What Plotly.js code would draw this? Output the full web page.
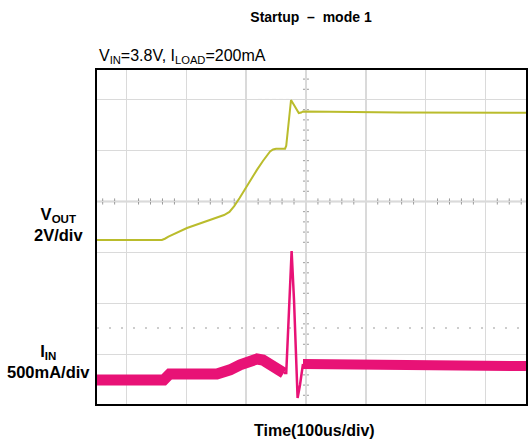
<!DOCTYPE html>
<html>
<head>
<meta charset="utf-8">
<script src="https://cdn.plot.ly/plotly-3.0.1.min.js"></script>
<style>html,body{margin:0;padding:0;background:#fff;}#chart{width:528px;height:443px;}</style>
</head>
<body>
<div id="chart"></div>
<script>
// ---- data (time in microseconds, trigger at centre graticule) ----
const voutTime = [-349.5, -241, -236, -230, -199, -160, -137, -128, -120, -111, -102, -82, -72, -65, -60, -55, -50, -35, -33, -25, -18, -12, -8, -5, 40, 157, 368];
const voutVolts = [0, 0, 0.05, 0.13, 0.47, 0.78, 0.98, 1.1, 1.33, 1.65, 2.0, 2.75, 3.1, 3.33, 3.47, 3.55, 3.58, 3.58, 3.7, 5.49, 5.22, 4.98, 5.0, 5.04, 5.03, 5.0, 4.99];

const iinTime = [-349.5, -238, -233, -228, -149, -138, -127, -110, -94, -82, -72, -60, -48, -37, -33, -24, -20, -14, -10, -5, 3, 17, 368];
const iinMilliamps = [0, 0, 30, 59, 59, 75, 100, 150, 190, 206, 196, 157, 108, 69, 69, 1265, 784, -176, -49, 157, 157, 137, 137];
const spikeStart = 13, spikeEnd = 19; // indices bounding the thin fast transient

const titleText = 'Startup  \u2013  mode 1';
const conditionText = 'V<sub>IN</sub>=3.8V, I<sub>LOAD</sub>=200mA';
const voutLabel = 'V<sub>OUT</sub><br>2V/div';
const iinLabel = 'I<sub>IN</sub><br>500mA/div';
const timeLabel = 'Time(100us/div)';

// ---- layout helpers ----
const xRange = [-349.5, 368];
const gridYRange = [-3.971, 2.578];    // graticule divisions
const voutRange = [-6.431, 6.667];     // volts
const iinRange = [-235, 3039];         // mA

const yellow = 'rgb(186,188,44)';
const magenta = 'rgb(232,18,118)';

const traces = [
  {x: voutTime, y: voutVolts, yaxis: 'y2', mode: 'lines', line: {color: yellow, width: 2}, hoverinfo: 'skip'},
  {x: iinTime.slice(0, spikeStart + 1), y: iinMilliamps.slice(0, spikeStart + 1), yaxis: 'y3', mode: 'lines', line: {color: magenta, width: 11}, hoverinfo: 'skip'},
  {x: iinTime.slice(spikeStart, spikeEnd + 1), y: iinMilliamps.slice(spikeStart, spikeEnd + 1), yaxis: 'y3', mode: 'lines', line: {color: magenta, width: 2.5}, hoverinfo: 'skip'},
  {x: iinTime.slice(spikeEnd), y: iinMilliamps.slice(spikeEnd), yaxis: 'y3', mode: 'lines', line: {color: magenta, width: 10}, hoverinfo: 'skip'}
];

const shapes = [];
const tickCol = '#9a9a9a';
// minor ticks on centre vertical graticule
for (let k = -19; k <= 12; k++) {
  const y = k * 0.2;
  if (Math.abs(k % 5) === 0) continue;
  shapes.push({type: 'line', xref: 'x', yref: 'y', x0: -5, x1: 5, y0: y, y1: y, line: {color: tickCol, width: 1}, layer: 'below'});
}
// minor ticks on centre horizontal graticule
for (let k = -17; k <= 18; k++) {
  const x = k * 20;
  if (k % 5 === 0) continue;
  shapes.push({type: 'line', xref: 'x', yref: 'y', x0: x, x1: x, y0: -0.06, y1: 0.06, line: {color: tickCol, width: 1}, layer: 'below'});
}
// centre lines
shapes.push({type: 'line', xref: 'x', yref: 'paper', x0: 0, x1: 0, y0: 0, y1: 1, line: {color: '#b4b4b4', width: 1.3}, layer: 'below'});
shapes.push({type: 'line', xref: 'paper', yref: 'y', x0: 0, x1: 1, y0: 0, y1: 0, line: {color: '#a8a8a8', width: 1.3}, layer: 'below'});
// dotted reference line and trigger marker
shapes.push({type: 'line', xref: 'paper', yref: 'y', x0: 0, x1: 1, y0: -2.48, y1: -2.48, line: {color: '#bdbdbd', width: 1.5, dash: '2px,10px'}, layer: 'below'});
shapes.push({type: 'line', xref: 'x', yref: 'y', x0: -80, x1: -28, y0: 2, y1: 2, line: {color: '#8a8a8a', width: 1, dash: '4px,3px'}, layer: 'below'});

const layout = {
  width: 528, height: 443,
  margin: {l: 97, r: 2, t: 70, b: 39},
  paper_bgcolor: '#fff', plot_bgcolor: '#fff',
  showlegend: false,
  font: {family: 'Arial, "Liberation Sans", sans-serif', color: '#000'},
  title: {text: '<b>' + titleText + '</b>', font: {size: 14, color: '#000'}, x: 311 / 528, xanchor: 'center', xref: 'container', y: 1 - 17 / 443, yanchor: 'middle', yref: 'container'},
  xaxis: {range: xRange, dtick: 100, tick0: 0, showgrid: true, gridcolor: '#dadada', gridwidth: 1.5, zeroline: false,
          showticklabels: false, ticks: '', showline: true, mirror: true, linecolor: '#000', linewidth: 2, fixedrange: true},
  yaxis: {range: gridYRange, dtick: 1, tick0: 0, showgrid: true, gridcolor: '#dadada', gridwidth: 1.5, zeroline: false,
          showticklabels: false, ticks: '', showline: true, mirror: true, linecolor: '#000', linewidth: 2, fixedrange: true},
  yaxis2: {range: voutRange, overlaying: 'y', visible: false, fixedrange: true},
  yaxis3: {range: iinRange, overlaying: 'y', visible: false, fixedrange: true},
  shapes: shapes,
  annotations: [
    {text: conditionText, xref: 'paper', yref: 'paper', x: 0, y: (404 - 56) / 334, xanchor: 'left', yanchor: 'middle', showarrow: false, font: {size: 16}},
    {text: '<b>' + voutLabel + '</b>', xref: 'paper', yref: 'paper', x: (58 - 97) / 429, y: (404 - 224) / 334, xanchor: 'center', yanchor: 'middle', align: 'center', showarrow: false, font: {size: 16.5}},
    {text: '<b>' + iinLabel + '</b>', xref: 'paper', yref: 'paper', x: (48 - 97) / 429, y: (404 - 361) / 334, xanchor: 'center', yanchor: 'middle', align: 'center', showarrow: false, font: {size: 16.5}},
    {text: '<b>' + timeLabel + '</b>', xref: 'paper', yref: 'paper', x: (314 - 97) / 429, y: (404 - 430) / 334, xanchor: 'center', yanchor: 'middle', showarrow: false, font: {size: 16}}
  ]
};

Plotly.newPlot('chart', traces, layout, {displayModeBar: false, staticPlot: true});
</script>
</body>
</html>
